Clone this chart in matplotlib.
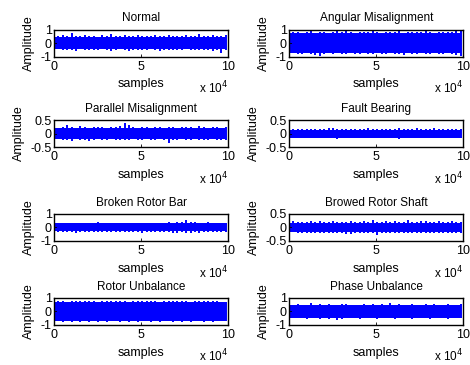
import matplotlib
matplotlib.use("Agg")

import numpy as np
import matplotlib.pyplot as plt

plt.rcParams['font.family'] = ['Liberation Sans', 'DejaVu Sans']
plt.rcParams['font.size'] = 9

# -----------------------
# DATA (signal envelopes)
# -----------------------
titles = ["Normal", "Angular Misalignment",
          "Parallel Misalignment", "Fault Bearing",
          "Broken Rotor Bar", "Browed Rotor Shaft",
          "Rotor Unbalance", "Phase Unbalance"]
y_limits = [1, 1, 0.5, 0.5, 1, 0.5, 1, 1]
last_sample = 98500
xtick_labels = ["0", "5", "10"]

# dense core of each signal (upper, lower)
core_up = [0.45, 0.75, 0.2, 0.15, 0.3, 0.18, 0.7, 0.45]
core_lo = [-0.43, -0.72, -0.19, -0.15, -0.3, -0.17, -0.7, -0.46]

# spike peaks across the record
normal_up = [0.55, 0.5, 0.6, 0.52, 0.72, 0.55, 0.5, 0.62, 0.5, 0.55, 0.48, 0.58, 0.52, 0.65, 0.5, 0.55, 0.6, 0.5, 0.52, 0.58,
             0.5, 0.55, 0.5, 0.62, 0.5, 0.52, 0.58, 0.5, 0.55, 0.52, 0.6, 0.5, 0.55, 0.65, 0.5, 0.52, 0.58, 0.5, 0.55, 0.6]
normal_lo = [-0.5, -0.45, -0.55, -0.48, -0.5, -0.6, -0.45, -0.5, -0.55, -0.48, -0.52, -0.45, -0.5, -0.58, -0.5, -0.45, -0.52, -0.62, -0.5, -0.48,
             -0.55, -0.5, -0.45, -0.52, -0.6, -0.5, -0.48, -0.55, -0.5, -0.52, -0.45, -0.5, -0.55, -0.48, -0.52, -0.5, -0.58, -0.5, -0.72, -0.5]

angular_up = [0.95, 0.8, 0.85, 0.78, 0.82, 0.9, 0.75, 0.8, 0.85, 0.78, 0.82, 0.88, 0.8, 0.95, 0.8, 0.78, 0.85, 0.8, 0.82, 0.9,
              0.8, 0.78, 0.85, 0.8, 0.82, 0.88, 0.78, 0.8, 0.85, 0.8, 0.82, 0.9, 0.8, 0.78, 0.85, 0.8, 0.82, 0.8, 0.88, 0.95]
angular_lo = [-0.8, -0.75, -0.82, -0.78, -0.75, -0.8, -0.85, -0.95, -0.78, -0.75, -0.8, -0.72, -0.78, -0.8, -0.75, -0.82, -0.78, -0.75, -0.8, -0.78,
              -0.75, -0.8, -0.82, -0.75, -0.78, -0.8, -0.85, -0.75, -0.78, -0.8, -0.75, -0.78, -0.82, -0.75, -0.8, -0.78, -0.75, -0.8, -0.85, -0.95]

parallel_up = [0.25, 0.22, 0.26, 0.3, 0.24, 0.22, 0.28, 0.24, 0.22, 0.26, 0.23, 0.25, 0.22, 0.26, 0.24, 0.28, 0.4, 0.3, 0.25, 0.22,
               0.24, 0.26, 0.22, 0.25, 0.23, 0.22, 0.26, 0.24, 0.22, 0.25, 0.23, 0.26, 0.22, 0.28, 0.24, 0.22, 0.25, 0.23, 0.22, 0.24]
parallel_lo = [-0.22, -0.2, -0.24, -0.22, -0.26, -0.2, -0.22, -0.25, -0.28, -0.22, -0.2, -0.24, -0.22, -0.2, -0.24, -0.22, -0.25, -0.22, -0.2, -0.24,
               -0.22, -0.2, -0.22, -0.24, -0.2, -0.22, -0.35, -0.24, -0.22, -0.2, -0.24, -0.22, -0.2, -0.22, -0.25, -0.22, -0.2, -0.22, -0.24, -0.22]

bearing_up = [0.17, 0.16, 0.18, 0.17, 0.16, 0.18, 0.17, 0.16, 0.17, 0.19, 0.22, 0.17, 0.16, 0.18, 0.17, 0.16, 0.18, 0.17, 0.2, 0.17,
              0.16, 0.18, 0.17, 0.16, 0.18, 0.2, 0.17, 0.16, 0.18, 0.19, 0.17, 0.16, 0.18, 0.2, 0.17, 0.16, 0.18, 0.17, 0.16, 0.17]
bearing_lo = [-0.17, -0.16, -0.18, -0.17, -0.16, -0.18, -0.17, -0.16, -0.18, -0.17, -0.16, -0.19, -0.17, -0.16, -0.18, -0.17, -0.16, -0.18, -0.17, -0.16,
              -0.18, -0.17, -0.16, -0.18, -0.17, -0.2, -0.17, -0.16, -0.18, -0.17, -0.16, -0.18, -0.17, -0.16, -0.18, -0.17, -0.16, -0.18, -0.17, -0.16]

broken_up = [0.35, 0.32, 0.36, 0.33, 0.35, 0.32, 0.34, 0.36, 0.33, 0.35, 0.42, 0.34, 0.33, 0.36, 0.32, 0.35, 0.34, 0.33, 0.36, 0.35,
             0.32, 0.34, 0.36, 0.33, 0.35, 0.34, 0.38, 0.36, 0.4, 0.42, 0.55, 0.4, 0.38, 0.36, 0.35, 0.38, 0.34, 0.36, 0.35, 0.34]
broken_lo = [-0.35, -0.32, -0.36, -0.33, -0.35, -0.4, -0.34, -0.36, -0.33, -0.35, -0.32, -0.34, -0.36, -0.33, -0.35, -0.32, -0.34, -0.36, -0.33, -0.35,
             -0.38, -0.34, -0.36, -0.33, -0.35, -0.32, -0.36, -0.38, -0.4, -0.36, -0.38, -0.42, -0.36, -0.38, -0.35, -0.36, -0.34, -0.36, -0.35, -0.34]

shaft_up = [0.2, 0.22, 0.19, 0.21, 0.2, 0.22, 0.2, 0.25, 0.21, 0.2, 0.22, 0.19, 0.21, 0.2, 0.23, 0.2, 0.19, 0.22, 0.2, 0.26,
            0.21, 0.2, 0.22, 0.19, 0.24, 0.21, 0.2, 0.26, 0.21, 0.2, 0.22, 0.23, 0.2, 0.21, 0.22, 0.2, 0.21, 0.22, 0.2, 0.21]
shaft_lo = [-0.2, -0.18, -0.21, -0.19, -0.2, -0.22, -0.19, -0.2, -0.21, -0.19, -0.2, -0.22, -0.2, -0.24, -0.26, -0.22, -0.2, -0.19, -0.21, -0.2,
            -0.28, -0.2, -0.19, -0.21, -0.2, -0.22, -0.19, -0.2, -0.21, -0.19, -0.2, -0.22, -0.19, -0.2, -0.21, -0.19, -0.2, -0.22, -0.2, -0.2]

unbalance_up = [0.8, 0.75, 0.78, 0.72, 0.76, 0.8, 0.74, 0.78, 0.75, 0.8, 0.72, 0.76, 0.78, 0.74, 0.8, 0.75, 0.78, 0.72, 0.76, 0.8,
                0.74, 0.78, 0.75, 0.8, 0.72, 0.76, 0.78, 0.74, 0.8, 0.75, 0.78, 0.72, 0.76, 0.8, 0.74, 0.78, 0.75, 0.8, 0.72, 0.7]
unbalance_lo = [-0.75, -0.72, -0.78, -0.74, -0.76, -0.72, -0.8, -0.75, -0.78, -0.72, -0.76, -0.74, -0.78, -0.72, -0.75, -0.8, -0.74, -0.76, -0.72, -0.78,
                -0.75, -0.72, -0.76, -0.74, -0.78, -0.72, -0.75, -0.8, -0.74, -0.76, -0.72, -0.78, -0.75, -0.72, -0.76, -0.74, -0.78, -0.72, -0.75, -0.74]

phase_up = [0.5, 0.45, 0.55, 0.48, 0.5, 0.6, 0.46, 0.52, 0.48, 0.55, 0.5, 0.45, 0.52, 0.58, 0.48, 0.5, 0.46, 0.55, 0.5, 0.52,
            0.48, 0.55, 0.5, 0.62, 0.48, 0.52, 0.5, 0.46, 0.55, 0.5, 0.48, 0.52, 0.5, 0.55, 0.48, 0.5, 0.52, 0.46, 0.5, 0.52]
phase_lo = [-0.55, -0.5, -0.52, -0.48, -0.55, -0.5, -0.52, -0.58, -0.5, -0.55, -0.5, -0.62, -0.55, -0.5, -0.52, -0.48, -0.55, -0.5, -0.52, -0.5,
            -0.55, -0.5, -0.48, -0.52, -0.55, -0.5, -0.52, -0.5, -0.55, -0.48, -0.52, -0.5, -0.55, -0.5, -0.52, -0.48, -0.55, -0.5, -0.52, -0.5]

uppers = [normal_up, angular_up, parallel_up, bearing_up, broken_up, shaft_up, unbalance_up, phase_up]
lowers = [normal_lo, angular_lo, parallel_lo, bearing_lo, broken_lo, shaft_lo, unbalance_lo, phase_lo]

# -----------------------
# LAYOUT (figure fractions)
# -----------------------
col_left = [0.115, 0.615]
col_width = 0.371
row_bottom = [0.845, 0.597, 0.340, 0.110]
row_height = 0.074

fig = plt.figure(figsize=(4.7, 3.65), dpi=100)
blue = (0, 0, 1)

for i, title in enumerate(titles):
    r, c = divmod(i, 2)
    ax = fig.add_axes([col_left[c], row_bottom[r], col_width, row_height])
    up = np.array(uppers[i])
    lo = np.array(lowers[i])
    x = np.linspace(0, last_sample, len(up))
    ax.fill_between([0, last_sample], core_lo[i], core_up[i], color=blue, linewidth=0)
    ax.vlines(x, lo, up, color=blue, linewidth=1.4)

    lim = y_limits[i]
    ax.set_xlim(0, 100000)
    ax.set_ylim(-lim, lim)
    ax.set_xticks([0, 50000, 100000])
    ax.set_xticklabels(xtick_labels)
    ax.set_yticks([-lim, 0, lim])
    ax.set_yticklabels([f"{v:g}" for v in (-lim, 0, lim)])
    ax.tick_params(axis='x', direction='in', length=2, width=0.6, pad=3, labelsize=9)
    ax.tick_params(axis='y', direction='in', length=2, width=0.6, pad=1.5, labelsize=9)
    for s in ax.spines.values():
        s.set_linewidth(1.0)
    ax.set_title(title, fontsize=8.5, pad=6)
    ax.set_xlabel("samples", fontsize=9, labelpad=4)
    ax.set_ylabel("Amplitude", fontsize=9, labelpad=4)
    ax.text(1.0, -1.17, r"x 10$^4$", transform=ax.transAxes, ha='right', va='center', fontsize=8.5)

plt.savefig("out.png", dpi=100)
